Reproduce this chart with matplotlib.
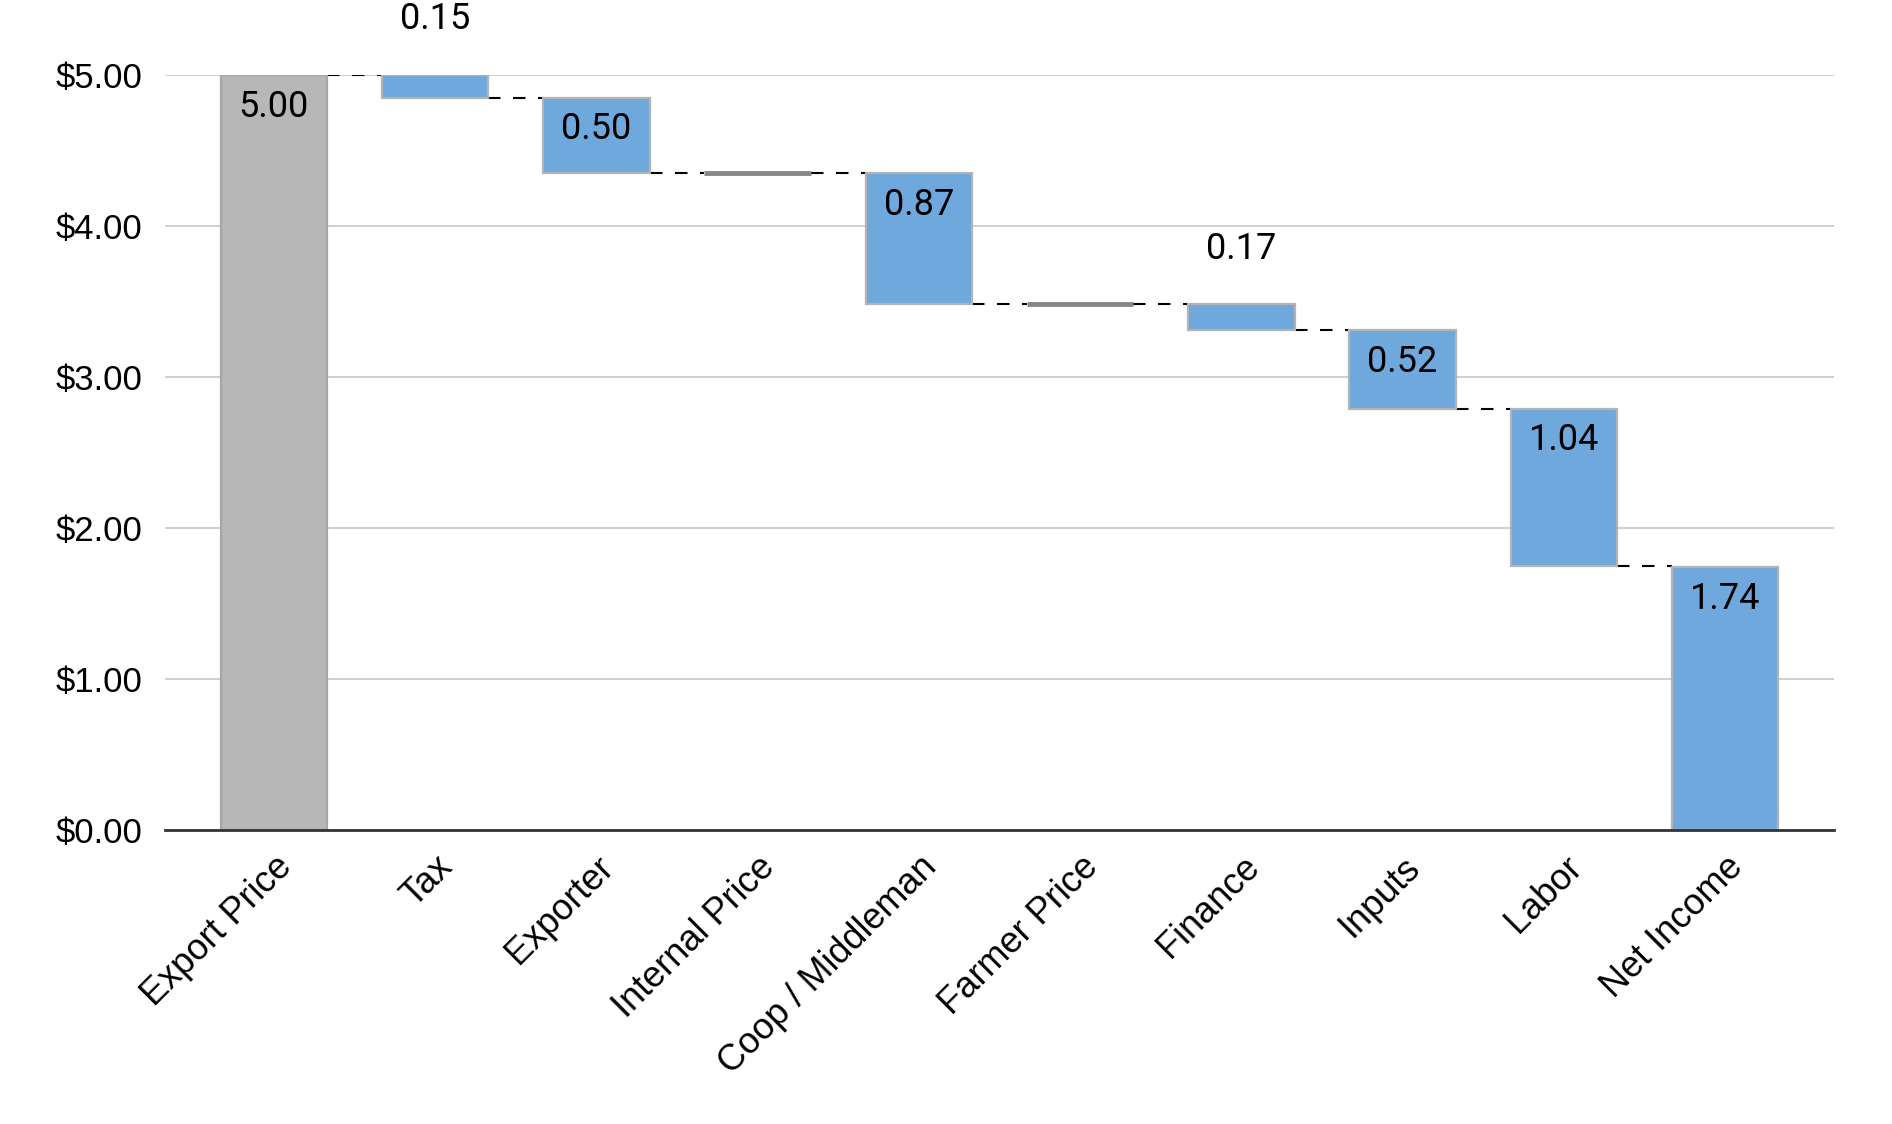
import numpy as np
import matplotlib
matplotlib.use("Agg")
import matplotlib.pyplot as plt
from matplotlib.ticker import FuncFormatter

# Chart data
categories = ["Export Price", "Tax", "Exporter", "Internal Price", "Coop / Middleman",
              "Farmer Price", "Finance", "Inputs", "Labor", "Net Income"]
amounts = [5.00, 0.15, 0.50, 0.0, 0.87, 0.0, 0.17, 0.52, 1.04, 1.74]
kinds = ["start", "drop", "drop", "subtotal", "drop", "subtotal", "drop", "drop", "drop", "end"]
y_ticks = [0, 1, 2, 3, 4, 5]

blue = "#6fa8dc"
grey = "#b7b7b7"
edge = "#b3b3b3"

fig = plt.figure(figsize=(18.92, 11.24), dpi=100)
ax = fig.add_axes([0.0872, 0.2616, 0.8821, 0.6717])

width = 0.66
x = np.arange(len(categories))
level = 0.0
levels = []  # running level after each step
for i, (amt, kind) in enumerate(zip(amounts, kinds)):
    if kind == "start":
        bottom, top = 0.0, amt
        ax.bar(i, amt, width, bottom=0, color=grey, edgecolor="#a6a6a6", linewidth=1.6, zorder=3)
        level = amt
    elif kind == "drop":
        bottom, top = level - amt, level
        ax.bar(i, -amt, width, bottom=level, color=blue, edgecolor=edge, linewidth=1.6, zorder=3)
        level = level - amt
    elif kind == "subtotal":
        ax.plot([i - width / 2, i + width / 2], [level, level], color="#888888", lw=3.5,
                solid_capstyle="butt", zorder=3)
        bottom, top = level, level
    else:
        bottom, top = 0.0, amt
        ax.bar(i, amt, width, bottom=0, color=blue, edgecolor=edge, linewidth=1.6, zorder=3)
        level = amt
    levels.append(level)

    if kind != "subtotal":
        if top - bottom < 0.3:
            ax.text(i, top + 0.37, f"{amt:.2f}", ha="center", va="center", fontsize=26,
                    family="Roboto", clip_on=False, zorder=4)
        else:
            ax.text(i, top - 0.21, f"{amt:.2f}", ha="center", va="center", fontsize=26,
                    family="Roboto", zorder=4)

# dashed connectors between bars
for i in range(len(categories) - 1):
    ax.plot([i + width / 2, i + 1 - width / 2], [levels[i], levels[i]], color="black",
            lw=1.5, ls=(0, (6, 6)), zorder=2)

ax.set_xlim(-0.675, len(categories) - 1 + 0.675)
ax.set_ylim(0, 5)
ax.set_yticks(y_ticks)
ax.yaxis.set_major_formatter(FuncFormatter(lambda v, p: f"${v:.2f}"))
ax.grid(axis="y", color="#cccccc", lw=1.3, zorder=0)
ax.set_axisbelow(True)
for s in ["top", "right", "left"]:
    ax.spines[s].set_visible(False)
ax.spines["bottom"].set_color("#333333")
ax.spines["bottom"].set_linewidth(2)
ax.spines["bottom"].set_zorder(5)

ax.tick_params(axis="y", length=0, pad=16, labelsize=25)
ax.tick_params(axis="x", length=0, pad=14)
for lab in ax.get_yticklabels():
    lab.set_family("Liberation Sans")

ax.set_xticks(x)
ax.set_xticklabels(categories, rotation=45, ha="right", rotation_mode="anchor",
                   fontsize=26, family="Liberation Sans")

fig.savefig("out.png", dpi=100, facecolor="white")
